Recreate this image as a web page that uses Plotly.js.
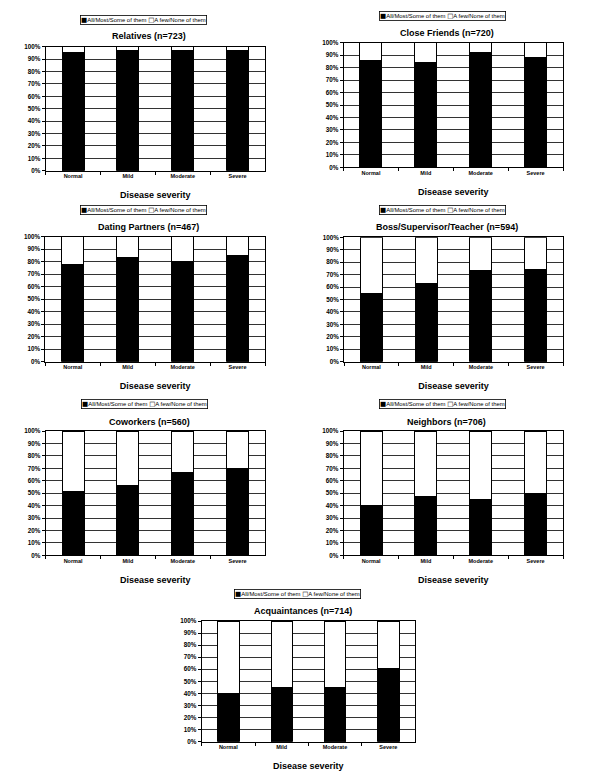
<!DOCTYPE html>
<html>
<head>
<meta charset="utf-8">
<script src="https://cdn.plot.ly/plotly-3.0.1.min.js"></script>
<style>html,body{margin:0;padding:0;background:#fff;}#chart{width:600px;height:776px;}</style>
</head>
<body>
<div id="chart"></div>
<script>
const categories = ['Normal', 'Mild', 'Moderate', 'Severe'];
const seriesNames = ['All/Most/Some of them', 'A few/None of them'];

const panelTitles = [
  'Relatives (n=723)',
  'Close Friends (n=720)',
  'Dating Partners (n=467)',
  'Boss/Supervisor/Teacher (n=594)',
  'Coworkers (n=560)',
  'Neighbors (n=706)',
  'Acquaintances (n=714)'
];

const relativesAll = [95, 97, 97, 97];
const relativesFew = [5, 3, 3, 3];
const closeFriendsAll = [86, 84, 92, 88];
const closeFriendsFew = [14, 16, 8, 12];
const datingAll = [78, 83, 80, 85];
const datingFew = [22, 17, 20, 15];
const bossAll = [55, 63, 73, 74];
const bossFew = [45, 37, 27, 26];
const coworkersAll = [51, 56, 67, 70];
const coworkersFew = [49, 44, 33, 30];
const neighborsAll = [40, 47, 45, 50];
const neighborsFew = [60, 53, 55, 50];
const acquaintancesAll = [40, 45, 45, 61];
const acquaintancesFew = [60, 55, 55, 39];

const yTicks = [0, 10, 20, 30, 40, 50, 60, 70, 80, 90, 100];

const allSeries = [relativesAll, closeFriendsAll, datingAll, bossAll, coworkersAll, neighborsAll, acquaintancesAll];
const fewSeries = [relativesFew, closeFriendsFew, datingFew, bossFew, coworkersFew, neighborsFew, acquaintancesFew];

const W = 600, H = 776;
// plot boxes in pixels: [left, right, top, bottom]
const boxes = [
  [45.7, 265, 46.7, 170.7],
  [343.5, 563, 42.7, 167.3],
  [45.3, 265, 236.7, 361.7],
  [344, 563, 237.3, 361.7],
  [45.7, 265, 431, 555.3],
  [343.7, 563, 431, 555.3],
  [201.7, 415, 621, 741.7]
];
const titlePos = [[148.5, 36], [446.8, 33], [148.3, 227.3], [446.8, 227.3], [149.5, 421.7], [446.7, 421.7], [302.5, 610.7]];
const legendPos = [[143.5, 19.7], [442, 16.2], [143.5, 210], [442, 210], [144.5, 404], [442, 404], [297, 594]];

const FONT = 'Liberation Sans, Arial, sans-serif';
const traces = [];
const layout = {
  width: W, height: H,
  margin: {l: 0, r: 0, t: 0, b: 0},
  paper_bgcolor: '#ffffff',
  plot_bgcolor: '#ffffff',
  barmode: 'stack',
  bargap: 0.6,
  showlegend: false,
  font: {family: FONT, color: '#000'},
  annotations: []
};

const sq = (ch) => '<span style="font-family:DejaVu Sans;font-size:6.5px">' + ch + '</span>';

for (let i = 0; i < 7; i++) {
  const s = i === 0 ? '' : String(i + 1);
  const [l, r, t, b] = boxes[i];
  traces.push({
    type: 'bar', x: categories, y: allSeries[i], name: seriesNames[0],
    xaxis: 'x' + s, yaxis: 'y' + s,
    marker: {color: '#000000', line: {color: '#000000', width: 1}},
    hoverinfo: 'x+y+name'
  });
  traces.push({
    type: 'bar', x: categories, y: fewSeries[i], name: seriesNames[1],
    xaxis: 'x' + s, yaxis: 'y' + s,
    marker: {color: '#ffffff', line: {color: '#000000', width: 1}},
    hoverinfo: 'x+y+name'
  });
  layout['xaxis' + s] = {
    domain: [l / W, r / W],
    anchor: 'y' + s,
    type: 'category',
    showline: true, linecolor: '#000', linewidth: 1, mirror: true,
    ticks: 'outside', tickson: 'boundaries', ticklen: 3, tickcolor: '#000', tickwidth: 1,
    showgrid: false, zeroline: false, fixedrange: true,
    tickfont: {family: FONT, size: 5.5, weight: 'bold', color: '#000'},
    title: {text: 'Disease severity', standoff: 13, font: {family: FONT, size: 9, weight: 'bold', color: '#000'}},
    automargin: false
  };
  layout['yaxis' + s] = {
    domain: [1 - b / H, 1 - t / H],
    anchor: 'x' + s,
    range: [0, 100],
    tickvals: yTicks,
    ticktext: yTicks.map(v => v + '%'),
    showline: true, linecolor: '#000', linewidth: 1, mirror: true,
    ticks: 'outside', ticklen: 3, tickcolor: '#000', tickwidth: 1,
    showgrid: true, gridcolor: '#333', gridwidth: 1,
    zeroline: false, fixedrange: true,
    tickfont: {family: FONT, size: 6.3, weight: 'bold', color: '#000'},
    automargin: false
  };
  layout.annotations.push({
    xref: 'paper', yref: 'paper',
    x: titlePos[i][0] / W, y: 1 - titlePos[i][1] / H,
    xanchor: 'center', yanchor: 'middle', showarrow: false,
    text: panelTitles[i],
    font: {family: FONT, size: 9, weight: 'bold', color: '#000'}
  });
  layout.annotations.push({
    xref: 'paper', yref: 'paper',
    x: legendPos[i][0] / W, y: 1 - legendPos[i][1] / H,
    xanchor: 'center', yanchor: 'middle', showarrow: false,
    text: sq('\u25A0') + seriesNames[0] + ' ' + sq('\u25A1') + seriesNames[1],
    font: {family: FONT, size: 5.9, color: '#000'},
    bgcolor: '#ffffff', bordercolor: '#000', borderwidth: 0.8, borderpad: 0.3
  });
}

Plotly.newPlot('chart', traces, layout, {staticPlot: true, displayModeBar: false});
</script>
</body>
</html>
